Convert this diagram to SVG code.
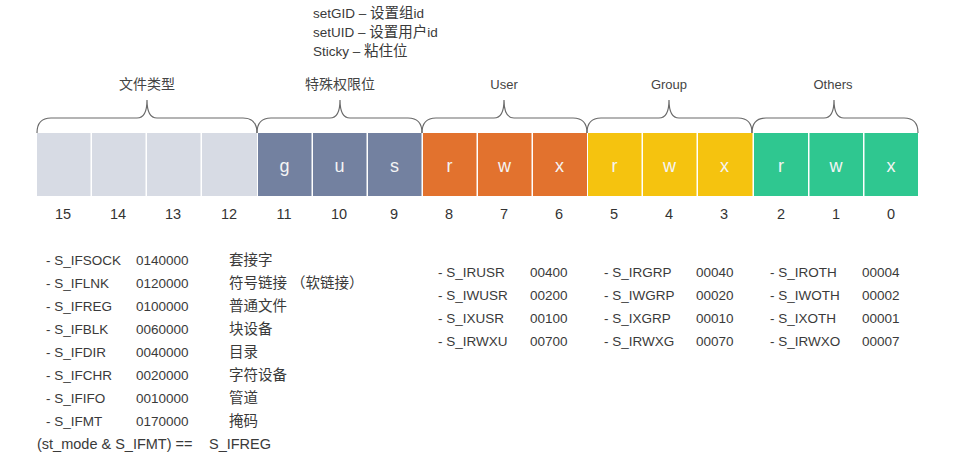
<svg xmlns="http://www.w3.org/2000/svg" width="977" height="461" viewBox="0 0 977 461">
<style>
text{font-family:"Liberation Sans","Noto Sans CJK SC",sans-serif;fill:#3a3a3a}
.t{font-size:13.5px}
.f{font-size:14.5px}
.cn{font-size:14.5px}
.lbl{font-size:13px;text-anchor:middle;fill:#444}
.lblc{font-size:14px;text-anchor:middle;fill:#444}
.num{font-size:14.5px;text-anchor:middle;fill:#333}
.bit{font-size:18px;text-anchor:middle;fill:#f4f4f4}
.brace{fill:none;stroke:#6a6a6a;stroke-width:1.2}
.c0{fill:#d7dbe4}.c1{fill:#7381a0}.c2{fill:#e2722e}.c3{fill:#f5c30f}.c4{fill:#2fc790}
</style>
<rect width="977" height="461" fill="#ffffff"/>
<g id="notes">
<text class="t" x="313" y="18">setGID – <tspan class="cn">设置组</tspan>id</text>
<text class="t" x="313" y="37">setUID – <tspan class="cn">设置用户</tspan>id</text>
<text class="t" x="313" y="56">Sticky – <tspan class="cn">粘住位</tspan></text>
</g>
<g id="connectors">
<path class="brace" d="M37 133 Q37 118 51 118 L137 118 Q147 118 147 100 Q147 118 157 118 L243 118 Q257 118 257 133"/>
<path class="brace" d="M257 133 Q257 118 271 118 L330 118 Q340 118 340 100 Q340 118 350 118 L408 118 Q422 118 422 133"/>
<path class="brace" d="M422 133 Q422 118 436 118 L494 118 Q504 118 504 100 Q504 118 514 118 L573 118 Q587 118 587 133"/>
<path class="brace" d="M587 133 Q587 118 601 118 L659 118 Q669 118 669 100 Q669 118 679 118 L738 118 Q752 118 752 133"/>
<path class="brace" d="M752 133 Q752 118 766 118 L824 118 Q834 118 834 100 Q834 118 844 118 L904 118 Q918 118 918 133"/>
</g>
<g id="labels">
<text class="lblc" x="147" y="89">文件类型</text>
<text class="lblc" x="340" y="89">特殊权限位</text>
<text class="lbl" x="504" y="89">User</text>
<text class="lbl" x="669" y="89">Group</text>
<text class="lbl" x="833" y="89">Others</text>
</g>
<g id="filetype">
<rect class="c0" x="37" y="133" width="53.5" height="63"/>
<rect class="c0" x="92" y="133" width="53.5" height="63"/>
<rect class="c0" x="147" y="133" width="53.5" height="63"/>
<rect class="c0" x="202" y="133" width="55" height="63"/>
</g>
<g id="special">
<rect class="c1" x="258" y="133" width="53.5" height="63"/>
<rect class="c1" x="313" y="133" width="53.5" height="63"/>
<rect class="c1" x="368" y="133" width="53.5" height="63"/>
<text class="bit" x="284.5" y="172">g</text>
<text class="bit" x="339.5" y="172">u</text>
<text class="bit" x="394.5" y="172">s</text>
</g>
<g id="user">
<rect class="c2" x="423" y="133" width="53.5" height="63"/>
<rect class="c2" x="478" y="133" width="53.5" height="63"/>
<rect class="c2" x="533" y="133" width="54" height="63"/>
<text class="bit" x="449.5" y="172">r</text>
<text class="bit" x="504.5" y="172">w</text>
<text class="bit" x="559.5" y="172">x</text>
</g>
<g id="group">
<rect class="c3" x="588" y="133" width="53.5" height="63"/>
<rect class="c3" x="643" y="133" width="53.5" height="63"/>
<rect class="c3" x="698" y="133" width="54.5" height="63"/>
<text class="bit" x="614.5" y="172">r</text>
<text class="bit" x="669.5" y="172">w</text>
<text class="bit" x="724.5" y="172">x</text>
</g>
<g id="others">
<rect class="c4" x="754" y="133" width="54" height="63"/>
<rect class="c4" x="809.5" y="133" width="53.5" height="63"/>
<rect class="c4" x="864.5" y="133" width="53.5" height="63"/>
<text class="bit" x="781" y="172">r</text>
<text class="bit" x="836" y="172">w</text>
<text class="bit" x="891" y="172">x</text>
</g>
<g id="bitnumbers">
<text class="num" x="63" y="219">15</text>
<text class="num" x="118" y="219">14</text>
<text class="num" x="173" y="219">13</text>
<text class="num" x="229" y="219">12</text>
<text class="num" x="284" y="219">11</text>
<text class="num" x="339" y="219">10</text>
<text class="num" x="394" y="219">9</text>
<text class="num" x="449" y="219">8</text>
<text class="num" x="504" y="219">7</text>
<text class="num" x="559" y="219">6</text>
<text class="num" x="614" y="219">5</text>
<text class="num" x="669" y="219">4</text>
<text class="num" x="724" y="219">3</text>
<text class="num" x="781" y="219">2</text>
<text class="num" x="836" y="219">1</text>
<text class="num" x="891" y="219">0</text>
</g>
<g id="filetypes-table">
<text class="t" x="46" y="265">- S_IFSOCK</text><text class="t" x="136" y="265">0140000</text><text class="cn" x="229" y="265">套接字</text>
<text class="t" x="46" y="288">- S_IFLNK</text><text class="t" x="136" y="288">0120000</text><text class="cn" x="229" y="288">符号链接 （软链接）</text>
<text class="t" x="46" y="311">- S_IFREG</text><text class="t" x="136" y="311">0100000</text><text class="cn" x="229" y="311">普通文件</text>
<text class="t" x="46" y="334">- S_IFBLK</text><text class="t" x="136" y="334">0060000</text><text class="cn" x="229" y="334">块设备</text>
<text class="t" x="46" y="357">- S_IFDIR</text><text class="t" x="136" y="357">0040000</text><text class="cn" x="229" y="357">目录</text>
<text class="t" x="46" y="380">- S_IFCHR</text><text class="t" x="136" y="380">0020000</text><text class="cn" x="229" y="380">字符设备</text>
<text class="t" x="46" y="403">- S_IFIFO</text><text class="t" x="136" y="403">0010000</text><text class="cn" x="229" y="403">管道</text>
<text class="t" x="46" y="426">- S_IFMT</text><text class="t" x="136" y="426">0170000</text><text class="cn" x="229" y="426">掩码</text>
<text class="f" x="37" y="449">(st_mode &amp; S_IFMT) ==</text><text class="f" x="209" y="449">S_IFREG</text>
</g>
<g id="user-table">
<text class="t" x="438" y="277">- S_IRUSR</text><text class="t" x="530" y="277">00400</text>
<text class="t" x="438" y="300">- S_IWUSR</text><text class="t" x="530" y="300">00200</text>
<text class="t" x="438" y="323">- S_IXUSR</text><text class="t" x="530" y="323">00100</text>
<text class="t" x="438" y="346">- S_IRWXU</text><text class="t" x="530" y="346">00700</text>
</g>
<g id="group-table">
<text class="t" x="604" y="277">- S_IRGRP</text><text class="t" x="696" y="277">00040</text>
<text class="t" x="604" y="300">- S_IWGRP</text><text class="t" x="696" y="300">00020</text>
<text class="t" x="604" y="323">- S_IXGRP</text><text class="t" x="696" y="323">00010</text>
<text class="t" x="604" y="346">- S_IRWXG</text><text class="t" x="696" y="346">00070</text>
</g>
<g id="others-table">
<text class="t" x="770" y="277">- S_IROTH</text><text class="t" x="862" y="277">00004</text>
<text class="t" x="770" y="300">- S_IWOTH</text><text class="t" x="862" y="300">00002</text>
<text class="t" x="770" y="323">- S_IXOTH</text><text class="t" x="862" y="323">00001</text>
<text class="t" x="770" y="346">- S_IRWXO</text><text class="t" x="862" y="346">00007</text>
</g>
</svg>
